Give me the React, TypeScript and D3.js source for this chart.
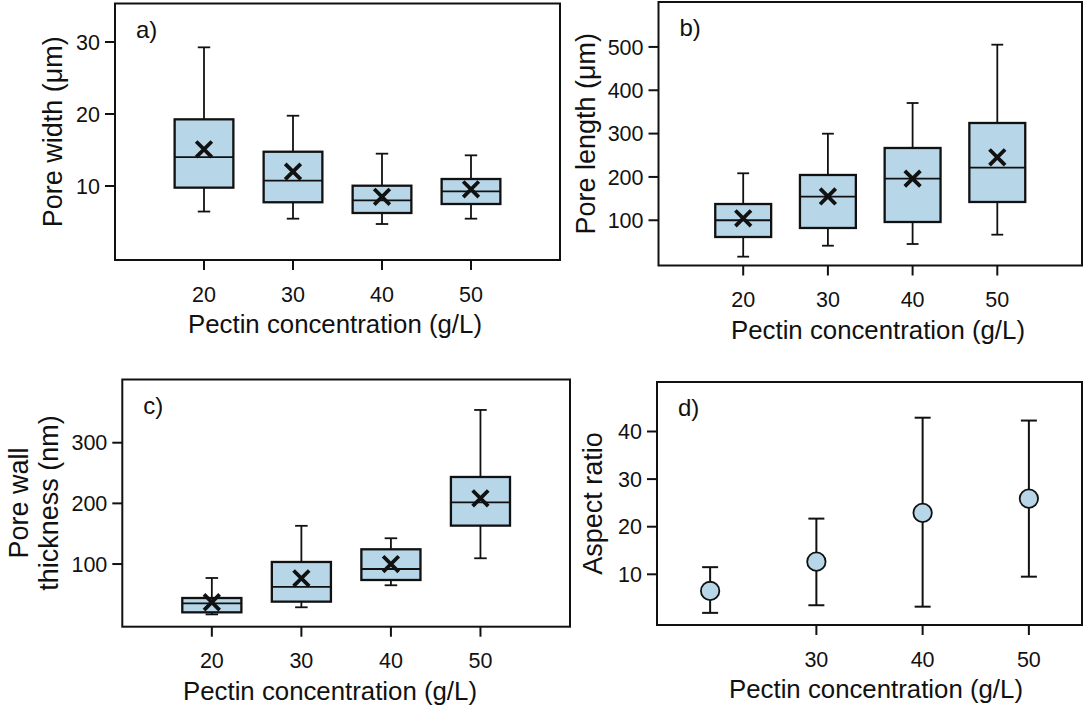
import React from "react";
import * as d3 from "d3";

// ---------- data ----------
const concentrations = [20, 30, 40, 50];

const poreWidthMin = [6.45, 5.46, 4.72, 5.46];
const poreWidthQ1 = [9.77, 7.74, 6.25, 7.5];
const poreWidthMedian = [14.0, 10.74, 8.01, 9.26];
const poreWidthQ3 = [19.26, 14.76, 10.04, 10.97];
const poreWidthMax = [29.26, 19.76, 14.49, 14.26];
const poreWidthMean = [15.1, 11.99, 8.5, 9.54];

const poreLengthMin = [16, 41.3, 45.2, 66.7];
const poreLengthQ1 = [61.4, 82.2, 96, 142.2];
const poreLengthMedian = [100, 154.4, 196, 221.3];
const poreLengthQ3 = [137.5, 204.5, 266.8, 324.5];
const poreLengthMax = [208.4, 299.8, 370.6, 505.2];
const poreLengthMean = [104.5, 155, 196, 245.3];

const wallMin = [17, 28.7, 65, 109.5];
const wallQ1 = [20.4, 38, 73.7, 163.3];
const wallMedian = [35.3, 62.2, 91.8, 201.8];
const wallQ3 = [44, 103.4, 124.3, 243.5];
const wallMax = [77, 163, 142.5, 354];
const wallMean = [37, 76.5, 100, 208.4];

const aspectMean = [6.5, 12.66, 22.9, 25.9];
const aspectUpper = [11.5, 21.7, 42.9, 42.3];
const aspectLower = [1.9, 3.5, 3.2, 9.5];

const xTicksBox = [20, 30, 40, 50];
const xTicksAspect = [30, 40, 50];
const widthTicks = [10, 20, 30];
const lengthTicks = [100, 200, 300, 400, 500];
const wallTicks = [100, 200, 300];
const aspectTicks = [10, 20, 30, 40];

const xTitle = "Pectin concentration (g/L)";

// ---------- styles ----------
const FONT = "'Liberation Sans', Arial, sans-serif";
const INK = "#111";
const FILL = "#b7d7e9";
const TICK = 10;

type Frame = { left: number; right: number; top: number; bottom: number };

function Axes({
  frame, x, y, xTicks, yTicks, label, yTitleLines, yTitleX, xTitleX,
}: {
  frame: Frame;
  x: d3.ScaleLinear<number, number>;
  y: d3.ScaleLinear<number, number>;
  xTicks: number[];
  yTicks: number[];
  label: string;
  yTitleLines: string[];
  yTitleX: number[];
  xTitleX: number;
}) {
  const cy = (frame.top + frame.bottom) / 2;
  return (
    <g>
      <rect x={frame.left} y={frame.top} width={frame.right - frame.left} height={frame.bottom - frame.top}
        fill="none" stroke={INK} strokeWidth={2} />
      {xTicks.map((t) => (
        <g key={"xt" + t}>
          <line x1={x(t)} x2={x(t)} y1={frame.bottom} y2={frame.bottom + TICK} stroke={INK} strokeWidth={2} />
          <text x={x(t)} y={frame.bottom + 41.5} textAnchor="middle" fontSize={21.5} fontFamily={FONT} fill={INK}>{t}</text>
        </g>
      ))}
      {yTicks.map((t) => (
        <g key={"yt" + t}>
          <line x1={frame.left - TICK} x2={frame.left} y1={y(t)} y2={y(t)} stroke={INK} strokeWidth={2} />
          <text x={frame.left - 15} y={y(t)} dy="0.36em" textAnchor="end" fontSize={21.5} fontFamily={FONT} fill={INK}>{t}</text>
        </g>
      ))}
      <text x={frame.left + 21} y={frame.top + 34} fontSize={24} fontFamily={FONT} fill={INK}>{label}</text>
      {yTitleLines.map((s, i) => (
        <text key={s} transform={`translate(${yTitleX[i]},${cy}) rotate(-90)`} textAnchor="middle"
          fontSize={27} fontFamily={FONT} fill={INK}>{s}</text>
      ))}
      <text x={xTitleX} y={frame.bottom + 73} textAnchor="middle" fontSize={25.8} fontFamily={FONT} fill={INK}>{xTitle}</text>
    </g>
  );
}

function BoxPanel({
  frame, xDomain, yDomain, yTicks, label, yTitleLines, yTitleX, xTitleX,
  mins, q1s, medians, q3s, maxs, means,
}: {
  frame: Frame; xDomain: [number, number]; yDomain: [number, number]; yTicks: number[];
  label: string; yTitleLines: string[]; yTitleX: number[]; xTitleX: number;
  mins: number[]; q1s: number[]; medians: number[]; q3s: number[]; maxs: number[]; means: number[];
}) {
  const x = d3.scaleLinear().domain(xDomain).range([frame.left, frame.right]);
  const y = d3.scaleLinear().domain(yDomain).range([frame.bottom, frame.top]);
  const halfBox = 3.3;
  const halfCap = 0.7;
  const xs = 7.8;
  return (
    <g>
      {concentrations.map((c, i) => {
        const cx = x(c);
        const x0 = x(c - halfBox);
        const x1 = x(c + halfBox);
        const cw = x(c + halfCap) - cx;
        const my = y(means[i]);
        return (
          <g key={c}>
            <line x1={cx} x2={cx} y1={y(maxs[i])} y2={y(q3s[i])} stroke={INK} strokeWidth={1.8} />
            <line x1={cx} x2={cx} y1={y(q1s[i])} y2={y(mins[i])} stroke={INK} strokeWidth={1.8} />
            <line x1={cx - cw} x2={cx + cw} y1={y(maxs[i])} y2={y(maxs[i])} stroke={INK} strokeWidth={1.8} />
            <line x1={cx - cw} x2={cx + cw} y1={y(mins[i])} y2={y(mins[i])} stroke={INK} strokeWidth={1.8} />
            <rect x={x0} y={y(q3s[i])} width={x1 - x0} height={y(q1s[i]) - y(q3s[i])} fill={FILL} stroke={INK} strokeWidth={2.3} />
            <line x1={x0} x2={x1} y1={y(medians[i])} y2={y(medians[i])} stroke={INK} strokeWidth={1.8} />
            <path d={`M${cx - xs},${my - xs}L${cx + xs},${my + xs}M${cx - xs},${my + xs}L${cx + xs},${my - xs}`}
              stroke={INK} strokeWidth={3.8} fill="none" />
          </g>
        );
      })}
      <Axes frame={frame} x={x} y={y} xTicks={xTicksBox} yTicks={yTicks} label={label}
        yTitleLines={yTitleLines} yTitleX={yTitleX} xTitleX={xTitleX} />
    </g>
  );
}

function AspectPanel({ frame }: { frame: Frame }) {
  const x = d3.scaleLinear().domain([15, 55]).range([frame.left, frame.right]);
  const y = d3.scaleLinear().domain([-0.65, 50.4]).range([frame.bottom, frame.top]);
  const cap = 8;
  return (
    <g>
      {concentrations.map((c, i) => {
        const cx = x(c);
        return (
          <g key={c}>
            <line x1={cx} x2={cx} y1={y(aspectUpper[i])} y2={y(aspectLower[i])} stroke={INK} strokeWidth={2} />
            <line x1={cx - cap} x2={cx + cap} y1={y(aspectUpper[i])} y2={y(aspectUpper[i])} stroke={INK} strokeWidth={2} />
            <line x1={cx - cap} x2={cx + cap} y1={y(aspectLower[i])} y2={y(aspectLower[i])} stroke={INK} strokeWidth={2} />
            <circle cx={cx} cy={y(aspectMean[i])} r={9.2} fill={FILL} stroke={INK} strokeWidth={1.8} />
          </g>
        );
      })}
      <Axes frame={frame} x={x} y={y} xTicks={xTicksAspect} yTicks={aspectTicks} label="d)"
        yTitleLines={["Aspect ratio"]} yTitleX={[602]} xTitleX={876} />
    </g>
  );
}

export default function App() {
  return (
    <svg width={1086} height={709} style={{ position: "absolute", left: 0, top: 0, background: "#fff" }}>
      <rect width={1086} height={709} fill="#fff" />
      <BoxPanel frame={{ left: 115, right: 560, top: 3.5, bottom: 260 }} xDomain={[10, 60]} yDomain={[-0.28, 35.35]}
        yTicks={widthTicks} label="a)" yTitleLines={["Pore width (μm)"]} yTitleX={[62]} xTitleX={335}
        mins={poreWidthMin} q1s={poreWidthQ1} medians={poreWidthMedian} q3s={poreWidthQ3} maxs={poreWidthMax} means={poreWidthMean} />
      <BoxPanel frame={{ left: 658.5, right: 1082, top: 2, bottom: 265.5 }} xDomain={[10, 60]} yDomain={[-4.4, 603.7]}
        yTicks={lengthTicks} label="b)" yTitleLines={["Pore length (μm)"]} yTitleX={[595]} xTitleX={878}
        mins={poreLengthMin} q1s={poreLengthQ1} medians={poreLengthMedian} q3s={poreLengthQ3} maxs={poreLengthMax} means={poreLengthMean} />
      <BoxPanel frame={{ left: 122.3, right: 570, top: 379.5, bottom: 626.7 }} xDomain={[10, 60]} yDomain={[-3.3, 404.2]}
        yTicks={wallTicks} label="c)" yTitleLines={["Pore wall", "thickness (nm)"]} yTitleX={[28, 58]} xTitleX={330}
        mins={wallMin} q1s={wallQ1} medians={wallMedian} q3s={wallQ3} maxs={wallMax} means={wallMean} />
      <AspectPanel frame={{ left: 657, right: 1082, top: 382, bottom: 625 }} />
    </svg>
  );
}
